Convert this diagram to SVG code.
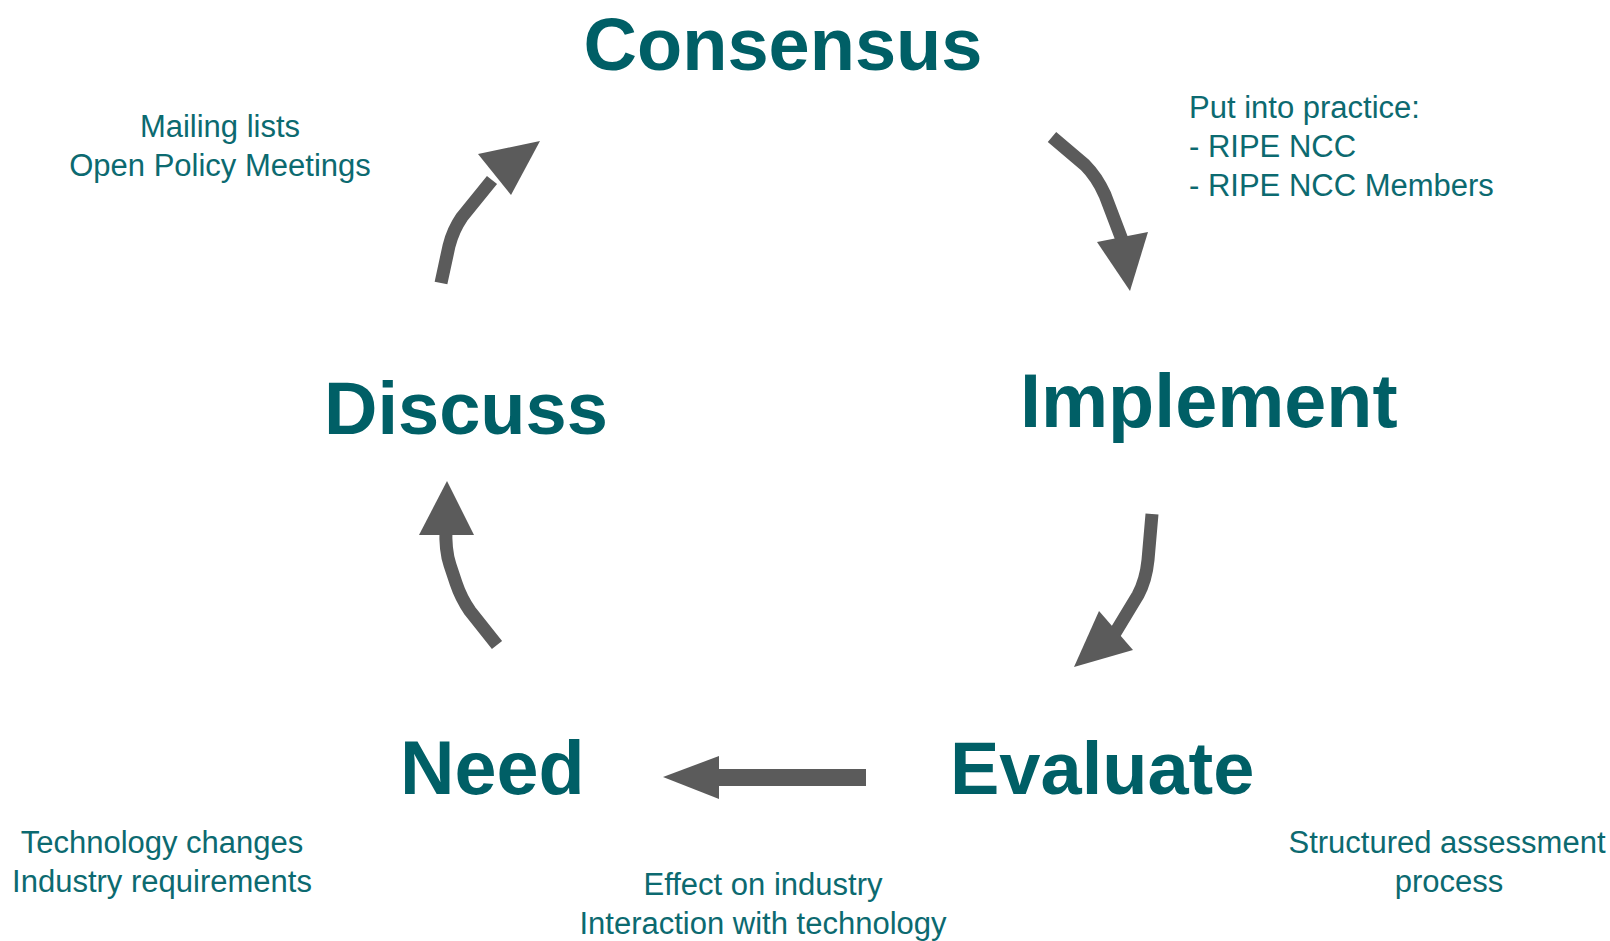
<svg xmlns="http://www.w3.org/2000/svg" width="1610" height="941" viewBox="0 0 1610 941">
<style>
.big{font-family:"Liberation Sans",Arial,sans-serif;font-weight:bold;font-size:74px;fill:#005f66;}
.small{font-family:"Liberation Sans",Arial,sans-serif;font-size:31px;fill:#0c6a70;}
.shaft{fill:none;stroke:#5b5b5b;stroke-width:13;stroke-linejoin:round;}
.head{fill:#5b5b5b;}
</style>
<rect width="1610" height="941" fill="#ffffff"/>
<g id="consensus"><text class="big" x="783" y="70" text-anchor="middle">Consensus</text></g>
<g id="implement"><text class="big" x="1020" y="427" style="font-size:75.5px">Implement</text></g>
<g id="evaluate"><text class="big" x="950" y="794">Evaluate</text></g>
<g id="need"><text class="big" x="400" y="794" style="font-size:75.5px">Need</text></g>
<g id="discuss"><text class="big" x="324" y="434">Discuss</text></g>
<g id="note-discuss" text-anchor="middle">
<text class="small" x="220" y="137">Mailing lists</text>
<text class="small" x="220" y="176">Open Policy Meetings</text>
</g>
<g id="note-implement">
<text class="small" x="1189" y="118">Put into practice:</text>
<text class="small" x="1189" y="157">- RIPE NCC</text>
<text class="small" x="1189" y="196">- RIPE NCC Members</text>
</g>
<g id="note-need" text-anchor="middle">
<text class="small" x="162" y="853">Technology changes</text>
<text class="small" x="162" y="892">Industry requirements</text>
</g>
<g id="note-evaluate-effect" text-anchor="middle">
<text class="small" x="763" y="895">Effect on industry</text>
<text class="small" x="763" y="934">Interaction with technology</text>
</g>
<g id="note-evaluate" text-anchor="middle">
<text class="small" x="1447" y="853">Structured assessment</text>
<text class="small" x="1449" y="892">process</text>
</g>
<g id="connectors">
<path class="shaft" d="M1052,137 L1085,165 Q1097,177 1105,195 L1124,245"/>
<polygon class="head" points="1097,242 1148,232 1130,291"/>
<path class="shaft" d="M1152,514 L1148,560 Q1146,580 1138,595 L1112,638"/>
<polygon class="head" points="1099,611 1133,650 1074,667"/>
<rect class="head" x="715" y="769" width="151" height="17"/>
<polygon class="head" points="719,756 719,799 663,777"/>
<path class="shaft" d="M497,645 L470,611 Q461,598 456,583 L450,565 Q445,550 446,528"/>
<polygon class="head" points="419,535 474,535 447,481"/>
<path class="shaft" d="M441,283 L449,246 Q453,230 462,217 L492,180"/>
<polygon class="head" points="478,154 511,195 540,141"/>
</g>
</svg>
